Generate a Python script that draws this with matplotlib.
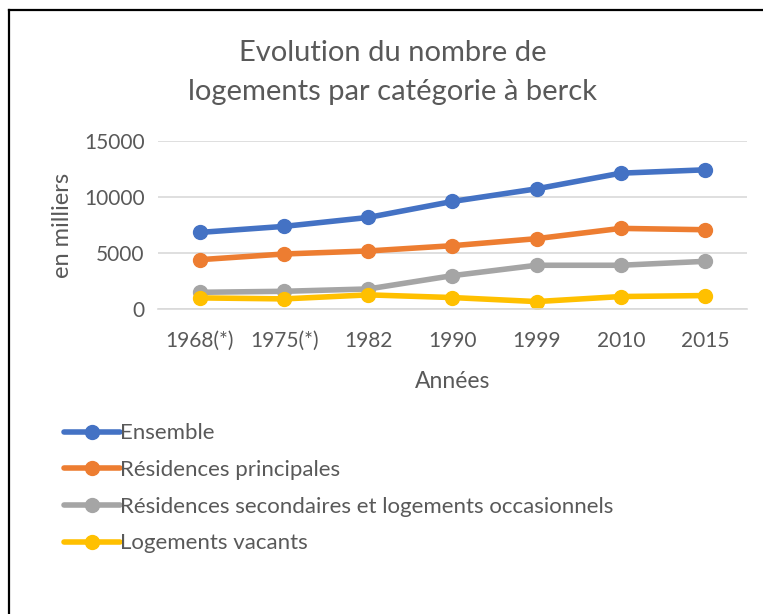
import matplotlib
matplotlib.use("Agg")
import matplotlib.pyplot as plt
from matplotlib.lines import Line2D

plt.rcParams['font.family'] = ['Lato', 'DejaVu Sans']

annees = ["1968(*)", "1975(*)", "1982", "1990", "1999", "2010", "2015"]
ensemble = [6840, 7380, 8180, 9610, 10740, 12140, 12440]
principales = [4400, 4910, 5180, 5650, 6280, 7200, 7080]
secondaires = [1480, 1570, 1780, 2970, 3900, 3900, 4250]
vacants = [980, 890, 1250, 1010, 650, 1100, 1190]

series = [
    ("Ensemble", ensemble, "#4472C4"),
    ("Résidences principales", principales, "#ED7D31"),
    ("Résidences secondaires et logements occasionnels", secondaires, "#A5A5A5"),
    ("Logements vacants", vacants, "#FFC000"),
]

txt = "#595959"

fig = plt.figure(figsize=(7.63, 6.14), dpi=100)
ax = fig.add_axes([0.207, 0.497, 0.772, 0.273])

x = range(len(annees))
for label, vals, col in series:
    ax.plot(x, vals, color=col, linewidth=4, marker="o", markersize=10,
            solid_capstyle="round", label=label)

ax.set_xlim(-0.5, len(annees) - 0.5)
ax.set_ylim(0, 15000)
ax.set_yticks([0, 5000, 10000, 15000])
ax.set_xticks(list(x))
ax.set_xticklabels(annees)
ax.grid(axis="y", color="#D9D9D9", linewidth=1.2)
ax.set_axisbelow(True)
for s in ["top", "right", "left"]:
    ax.spines[s].set_visible(False)
ax.spines["bottom"].set_color("#D9D9D9")
ax.spines["bottom"].set_linewidth(1.2)
ax.tick_params(length=0, labelsize=15, colors=txt)
ax.tick_params(axis="x", pad=16)
ax.tick_params(axis="y", pad=9.5)

ax.set_xlabel("Années", fontsize=16.5, color=txt, labelpad=14)
ax.set_ylabel("en milliers", fontsize=17, color=txt, labelpad=8)

fig.text(0.515, 0.882, "Evolution du nombre de\nlogements par catégorie à berck",
         ha="center", va="center", fontsize=21, color=txt, linespacing=1.6)

handles = [Line2D([0], [0], color=c, linewidth=4, marker="o", markersize=10,
                  solid_capstyle="round") for _, _, c in series]
fig.legend(handles, [s[0] for s in series], loc="upper left",
           bbox_to_anchor=(0.072, 0.325), frameon=False, fontsize=16,
           handlelength=2.55, handletextpad=0.0, labelspacing=0.75,
           labelcolor=txt, borderaxespad=0)

# border of the chart area
fig.add_artist(Line2D([9 / 763, 1], [1 - 10 / 614, 1 - 10 / 614],
                      color="black", linewidth=1.6, transform=fig.transFigure))
fig.add_artist(Line2D([9 / 763, 9 / 763], [0, 1 - 10 / 614],
                      color="black", linewidth=1.6, transform=fig.transFigure))

fig.savefig("out.png", dpi=100)
